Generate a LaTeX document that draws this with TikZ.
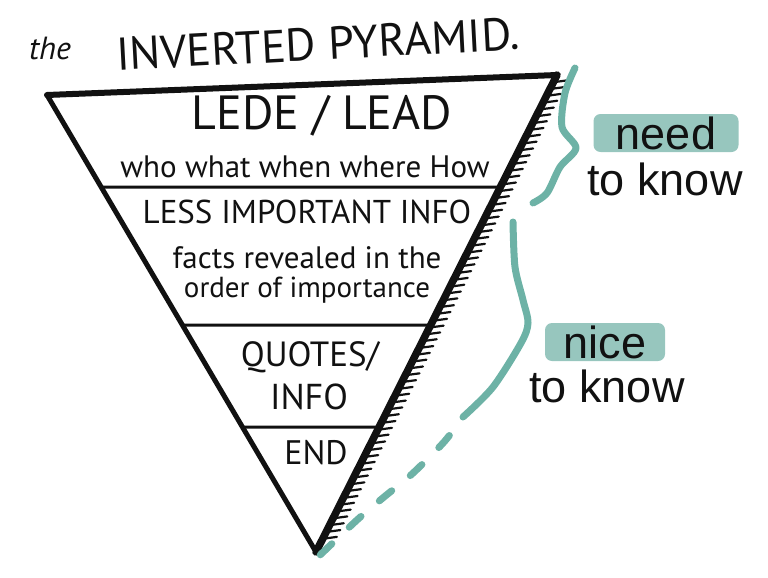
\documentclass[tikz,border=0pt]{standalone}
\usepackage{fontspec}
\setmainfont{PT Sans}
\newfontfamily\sidefont{Liberation Sans}
\usepackage{xcolor}
\usepackage{tikz}
\usetikzlibrary{calc}
\definecolor{ink}{HTML}{111111}
\definecolor{brace}{HTML}{6DB2A6}
\definecolor{marker}{HTML}{97C6BE}

\begin{document}
\begin{tikzpicture}[x=1pt,y=-1pt,line cap=round,line join=round,
  every node/.style={text=ink,inner sep=0pt},
  hand/.style={font=\fontsize{#1}{#1}\selectfont},
  sidetext/.style={font=\sidefont\fontsize{45}{45}\selectfont},
  hl/.style={fill=marker,rounded corners=7pt,minimum height=38pt},
  bracket/.style={draw=brace,line width=7pt}]
  \useasboundingbox (0,0) rectangle (768,578);
  \node[hand=32,font=\fontsize{32}{32}\itshape] (the) at (50,48) {the};
  \node[hand=46,rotate=3] (title) at (318,44) {INVERTED PYRAMID.};
  \coordinate (tl) at (47,95);
  \coordinate (tr) at (557,75);
  \coordinate (tip) at (316,552);
  \draw[ink,line width=6pt] (tl) -- (tr);
  \draw[ink,line width=5pt] (tl) -- (tip);
  \draw[ink,line width=7.5pt] (tr) -- (tip);
  \foreach \i in {1,...,68}{
    \draw[ink,line width=2.2pt] ($(tr)!\i/70!(tip)+(3,0)$) -- ++(11,-1.5);}
  \foreach \y in {187,325,427}{
    \draw[ink,line width=3pt] (intersection of tl--tip and 0,\y--768,\y)
      -- (intersection of tr--tip and 0,\y--768,\y);}
  \node[hand=48] (lede) at (322,116) {LEDE / LEAD};
  \node[hand=31] (who) at (305,167) {who what when where How};
  \node[hand=33] (less) at (307,212) {LESS IMPORTANT INFO};
  \node[hand=31] (facts) at (307,258) {facts revealed in the};
  \node[hand=29] (order) at (307,290) {order of importance};
  \node[hand=35] (quotes) at (310,357) {QUOTES/};
  \node[hand=36] (info) at (309,397) {INFO};
  \node[hand=34] (end) at (316,453) {END};
  \draw[bracket] plot[smooth] coordinates {(575,68) (565,93) (562,127) (576,148) (560,167) (547,193) (533,203)};
  \draw[bracket] plot[smooth] coordinates {(513,222) (515,267) (523,300) (528,323) (521,343) (493,387) (463,417)};
  \draw[bracket,dash pattern=on 16pt off 24pt,dash phase=17pt] plot[smooth] coordinates {(463,417) (444,442) (412,474) (384,497) (357,520) (318,557)};
  \node[hl,sidetext,minimum width=145pt] (need) at (666,133) {need};
  \node[sidetext,anchor=base] (knowa) at (665,195) {to know};
  \node[hl,sidetext,minimum width=120pt] (nice) at (605,342) {nice};
  \node[sidetext,anchor=base] (knowb) at (607,402) {to know};
\end{tikzpicture}
\end{document}
